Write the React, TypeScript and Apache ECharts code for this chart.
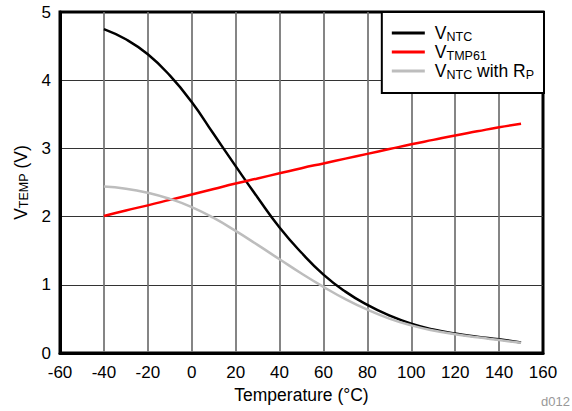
import React, { useEffect, useRef } from "react";
import * as echarts from "echarts";

const temperatures = [-40, -30, -20, -10, 0, 10, 20, 30, 40, 50, 60, 70, 80, 90, 100, 110, 120, 130, 140, 150];
const vNtc = [4.75, 4.6, 4.38, 4.07, 3.68, 3.21, 2.74, 2.28, 1.84, 1.47, 1.15, 0.9, 0.705, 0.55, 0.43, 0.345, 0.285, 0.24, 0.2, 0.155];
const vTmp61 = [2.01, 2.09, 2.165, 2.245, 2.325, 2.405, 2.485, 2.56, 2.635, 2.71, 2.78, 2.85, 2.92, 2.99, 3.06, 3.125, 3.19, 3.25, 3.31, 3.36];
const vNtcRp = [2.44, 2.41, 2.35, 2.26, 2.14, 1.98, 1.79, 1.585, 1.375, 1.165, 0.97, 0.79, 0.635, 0.505, 0.405, 0.33, 0.275, 0.23, 0.19, 0.15];

const seriesNames = ["VNTC", "VTMP61", "VNTC with RP"];
const seriesLabels: Record<string, string> = {
  VNTC: "{f|V}{s|NTC}",
  VTMP61: "{f|V}{s|TMP61}",
  "VNTC with RP": "{f|V}{s|NTC}{m| with R}{s|P}",
};
const seriesColors = ["#000000", "#ff0000", "#bdbdbd"];
const seriesValues = [vNtc, vTmp61, vNtcRp];

const FONT = "'Liberation Sans', Arial, Helvetica, sans-serif";

export default function App() {
  const ref = useRef<HTMLDivElement>(null);
  useEffect(() => {
    document.body.style.margin = "0";
    const chart = echarts.init(ref.current!, null, { renderer: "svg" });
    const rich = {
      m: { fontSize: 17.5, lineHeight: 20, fontFamily: FONT, color: "#000" },
      f: { fontSize: 17.5, lineHeight: 20, fontFamily: FONT, color: "#000", padding: [0, 0, 0, 5] },
      s: { fontSize: 12.5, lineHeight: 8, verticalAlign: "bottom", fontFamily: FONT, color: "#000" },
    };
    chart.setOption({
      animation: false,
      grid: {
        left: 60,
        right: 29,
        top: 12,
        bottom: 58,
        show: true,
        borderColor: "#000",
        borderWidth: 3,
        backgroundColor: "transparent",
      },
      legend: {
        orient: "vertical",
        right: 28,
        top: 12,
        padding: [12, 10, 12, 10],
        itemGap: 0,
        itemWidth: 33,
        itemHeight: 3,
        icon: "rect",
        borderColor: "#000",
        borderWidth: 2,
        backgroundColor: "#fff",
        data: seriesNames,
        formatter: (name: string) => seriesLabels[name],
        textStyle: { rich },
      },
      xAxis: {
        type: "value",
        min: -60,
        max: 160,
        interval: 20,
        axisLine: { show: true, onZero: false, lineStyle: { color: "#000", width: 3 } },
        axisTick: { show: false },
        splitLine: { show: true, showMinLine: false, showMaxLine: false, lineStyle: { color: "#707070", width: 1.7 } },
        axisLabel: { color: "#000", fontSize: 17, fontFamily: FONT, margin: 11 },
        name: "Temperature (°C)",
        nameLocation: "middle",
        nameGap: 31,
        nameTextStyle: { color: "#000", fontSize: 17.5, fontFamily: FONT },
      },
      yAxis: {
        type: "value",
        min: 0,
        max: 5,
        interval: 1,
        axisLine: { show: true, onZero: false, lineStyle: { color: "#000", width: 3 } },
        axisTick: { show: false },
        splitLine: { show: true, showMinLine: false, showMaxLine: false, lineStyle: { color: "#333", width: 1.2 } },
        axisLabel: { color: "#000", fontSize: 17, fontFamily: FONT, margin: 9 },
        name: "{m|V}{s|TEMP}{m| (V)}",
        nameLocation: "middle",
        nameGap: 22,
        nameRotate: 90,
        nameTextStyle: { rich },
      },
      series: seriesNames.map((name, i) => ({
        name,
        type: "line",
        symbol: "none",
        smooth: 0.5,
        color: seriesColors[i],
        lineStyle: { color: seriesColors[i], width: 2.5 },
        data: temperatures.map((t, j) => [t, seriesValues[i][j]]),
      })),
      graphic: [
        {
          type: "text",
          right: 2,
          bottom: 3,
          style: { text: "d012", fontSize: 13, fontFamily: FONT, fill: "#999" },
        },
      ],
    });
    return () => chart.dispose();
  }, []);
  return <div ref={ref} style={{ width: 572, height: 411 }} />;
}
